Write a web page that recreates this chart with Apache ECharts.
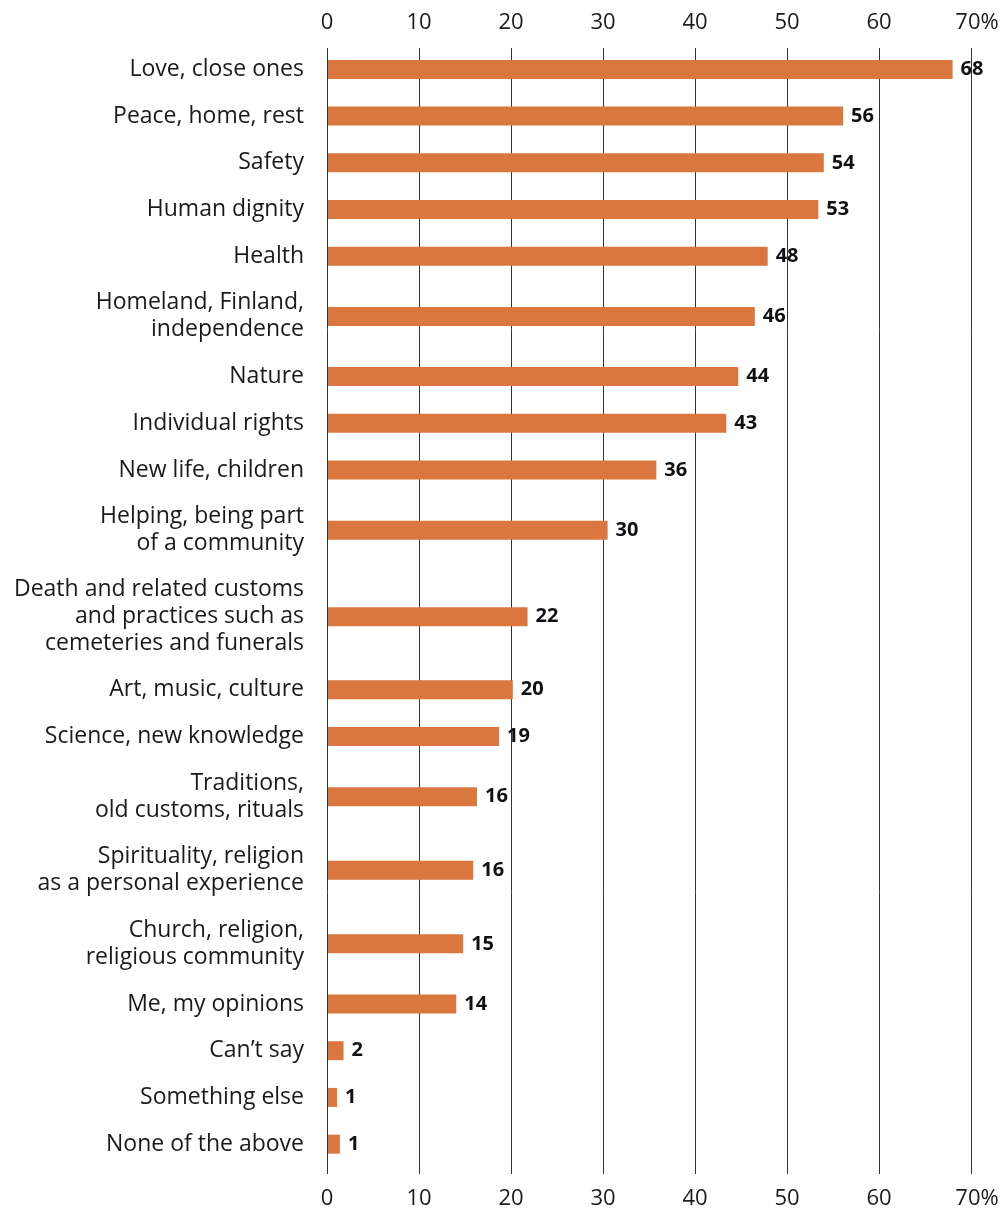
<!DOCTYPE html>
<html>
<head>
<meta charset="utf-8">
<script src="https://cdn.jsdelivr.net/npm/echarts@6/dist/echarts.min.js"></script>
<style>
html,body{margin:0;padding:0;background:#fff;}
#chart{width:1006px;height:1210px;}
</style>
</head>
<body>
<div id="chart"></div>
<script>
const categories = [
  "Love, close ones",
  "Peace, home, rest",
  "Safety",
  "Human dignity",
  "Health",
  "Homeland, Finland,\nindependence",
  "Nature",
  "Individual rights",
  "New life, children",
  "Helping, being part\nof a community",
  "Death and related customs\nand practices such as\ncemeteries and funerals",
  "Art, music, culture",
  "Science, new knowledge",
  "Traditions,\nold customs, rituals",
  "Spirituality, religion\nas a personal experience",
  "Church, religion,\nreligious community",
  "Me, my opinions",
  "Can\u2019t say",
  "Something else",
  "None of the above"
];
// printed value labels
const labels = [68, 56, 54, 53, 48, 46, 44, 43, 36, 30, 22, 20, 19, 16, 16, 15, 14, 2, 1, 1];
// bar lengths (%)
const values = [68.0, 56.1, 54.0, 53.4, 47.9, 46.5, 44.7, 43.4, 35.8, 30.5, 21.8, 20.2, 18.7, 16.3, 15.9, 14.8, 14.05, 1.8, 1.1, 1.4];
const xTicks = [0, 10, 20, 30, 40, 50, 60, 70];

// Vertical slot of each row grows with the number of lines in its label
function halfSlot(label) {
  const n = label.split("\n").length;
  return [0, 47, 74, 100][n];
}
const positions = [];
categories.forEach((c, i) => {
  if (i === 0) positions.push(0);
  else positions.push(positions[i - 1] + halfSlot(categories[i - 1]) + halfSlot(c));
});
const posToLabel = {};
positions.forEach((p, i) => { posToLabel[p] = categories[i]; });

const FONT = "Open Sans";
const chart = echarts.init(document.getElementById("chart"));
const lastTick = xTicks[xTicks.length - 1];
const xAxisBase = {
  type: "value",
  min: xTicks[0],
  max: lastTick,
  interval: 10,
  axisLine: { show: false },
  axisTick: { show: false },
  axisLabel: {
    fontFamily: FONT, fontSize: 22, color: "#1a1a1a", margin: 14,
    formatter: v => v === lastTick ? "{pct|" + v + "%}" : String(v),
    rich: { pct: { fontFamily: FONT, fontSize: 22, color: "#1a1a1a", padding: [0, 0, 0, 12] } }
  }
};
chart.setOption({
  animation: false,
  grid: { left: 327, right: 35, top: 48, bottom: 33 },
  xAxis: [
    Object.assign({}, xAxisBase, {
      position: "bottom",
      splitLine: { show: true, lineStyle: { color: "#333", width: 1 } }
    }),
    Object.assign({}, xAxisBase, { position: "top", splitLine: { show: false } })
  ],
  yAxis: {
    type: "value",
    inverse: true,
    min: -43,
    max: positions[positions.length - 1] + 60,
    axisLine: { show: false },
    axisTick: { show: false },
    splitLine: { show: false },
    axisLabel: {
      customValues: positions,
      formatter: v => posToLabel[v] || "",
      fontFamily: FONT, fontSize: 23, color: "#1a1a1a",
      lineHeight: 27, align: "right", margin: 23
    }
  },
  series: [{
    type: "custom",
    xAxisIndex: 0,
    data: values.map((v, i) => [v, positions[i], labels[i]]),
    encode: { x: 0, y: 1 },
    z: 5,
    renderItem: function (params, api) {
      const v = api.value(0);
      const start = api.coord([0, api.value(1)]);
      const end = api.coord([v, api.value(1)]);
      const h = 19;
      return {
        type: "rect",
        shape: { x: start[0] + 1, y: start[1] - h / 2, width: end[0] - start[0] - 1, height: h },
        style: { fill: "#D9773F" },
        textContent: {
          style: { text: String(api.value(2)), fontFamily: FONT, fontWeight: "bold", fontSize: 20, fill: "#111" }
        },
        textConfig: { position: "right", distance: 8 }
      };
    }
  }]
});
</script>
</body>
</html>
